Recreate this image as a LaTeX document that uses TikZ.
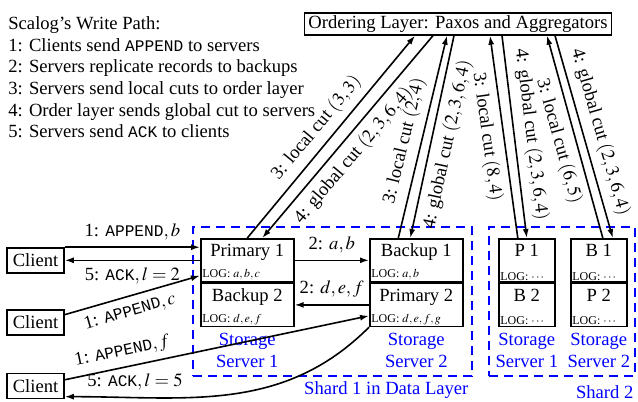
\documentclass[tikz,border=0pt]{standalone}
\usepackage{mathptmx}
\usepackage{fontspec}
\setmainfont{Liberation Serif}
\setmonofont{Liberation Mono}[Scale=0.87]
\usetikzlibrary{positioning, arrows.meta, calc, fit}

\begin{document}
\begin{tikzpicture}[x=0.5pt, y=0.5pt,
        font=\fontsize{9.3}{10.85}\selectfont,
        cell/.style={rectangle, draw=black, thick, minimum width=46.5pt, minimum height=21.5pt, inner sep=2pt, text height=7pt, text depth=10.5pt},
        smallcell/.style={cell, minimum width=28pt},
        log/.style={font=\fontsize{6}{7}\selectfont, inner sep=1pt, anchor=south west},
        client/.style={rectangle, draw=black, thick, minimum width=28.5pt, minimum height=12.5pt, inner sep=1pt},
        shard/.style={draw=blue, thick, dash pattern=on 4.5pt off 3pt, inner sep=0pt},
        server/.style={text=blue, align=center, inner sep=1pt},
        arrow/.style={-{Latex[length=4.5pt, width=3pt]}, thick}
    ]
    \useasboundingbox (0,0) rectangle (638,-402);

    \node[anchor=north west, align=left, inner sep=0pt] (title) at (8,-16) {Scalog's Write Path:\\ 1: Clients send \texttt{APPEND} to servers\\ 2: Servers replicate records to backups\\ 3: Servers send local cuts to order layer\\ 4: Order layer sends global cut to servers\\ 5: Servers send \texttt{ACK} to clients};
    \node[draw=black, thick, inner xsep=2pt, inner ysep=1.2pt] (order) at (458,-24) {Ordering Layer: Paxos and Aggregators};

    \node[shard, fit={(193,-227) (472,-376)}] (shard1) {};
    \node[shard, fit={(489,-227) (635,-376)}] (shard2) {};
    \node[text=blue, anchor=north east, inner sep=2pt] (shard1name) at (shard1.south east) {Shard 1 in Data Layer};
    \node[text=blue, anchor=north east, inner sep=1pt, yshift=-3pt] (shard2name) at (shard2.south east) {Shard 2};

    \node[cell, anchor=north west] (p1) at (200,-238) {Primary 1};
    \node[cell, below=0pt of p1] (b2) {Backup 2};
    \node[cell, anchor=north west] (b1) at (369,-238) {Backup 1};
    \node[cell, below=0pt of b1] (p2) {Primary 2};
    \node[smallcell, anchor=north west] (sp1) at (498,-238) {P 1};
    \node[smallcell, below=0pt of sp1] (sb2) {B 2};
    \node[smallcell, anchor=north west] (sb1) at (570,-238) {B 1};
    \node[smallcell, below=0pt of sb1] (sp2) {P 2};

    \node[log] (p1log) at (p1.south west) {LOG: $a,b,c$};
    \node[log] (b2log) at (b2.south west) {LOG: $d,e,f$};
    \node[log] (b1log) at (b1.south west) {LOG: $a,b$};
    \node[log] (p2log) at (p2.south west) {LOG: $d,e,f,g$};
    \node[log] (sp1log) at (sp1.south west) {LOG: $\cdots$};
    \node[log] (sb2log) at (sb2.south west) {LOG: $\cdots$};
    \node[log] (sb1log) at (sb1.south west) {LOG: $\cdots$};
    \node[log] (sp2log) at (sp2.south west) {LOG: $\cdots$};

    \node[server, below=2pt of b2] (srv1) {Storage\\Server 1};
    \node[server, below=2pt of p2] (srv2) {Storage\\Server 2};
    \node[server, below=2pt of sb2] (srv3) {Storage\\Server 1};
    \node[server, below=2pt of sp2] (srv4) {Storage\\Server 2};

    \node[client] (c1) at (35.5,-260.5) {Client};
    \node[client] (c2) at (35.5,-322.5) {Client};
    \node[client] (c3) at (35.5,-386) {Client};

    \draw[arrow] (c1.north east) -- node[above] {1: \texttt{APPEND}$,b$} (c1.north east -| p1.west);
    \draw[arrow] (p1.west) -- node[below] {5: \texttt{ACK}$,l=2$} (p1.west -| c1.east);
    \draw[arrow] (c2.15) -- node[below, sloped, pos=0.45] {1: \texttt{APPEND}$,c$} (p1.198);
    \draw[arrow] (c3.12) -- node[above, sloped, pos=0.2] {1: \texttt{APPEND}$,f$} (p2.193);
    \draw[arrow] (p2.south west) to[out=225, in=0] node[above, pos=0.8] {5: \texttt{ACK}$,l=5$} (c3.-20);
    \draw[arrow] (p1.east) -- node[above] {2: $a,b$} (b1.west);
    \draw[arrow] (p2.west) -- node[above] {2: $d,e,f$} (b2.east);

    \draw[arrow] (p1.north) -- node[above, sloped, pos=0.49] {3: local cut $(3,3)$} ([xshift=-21.5pt]order.south);
    \draw[arrow] ([xshift=-12.5pt]order.south) -- node[below, sloped, pos=0.54] {4: global cut $(2,3,6,4)$} ([xshift=7.5pt]p1.north);
    \draw[arrow] ([xshift=-9pt]b1.north) -- node[above, sloped, pos=0.46] {3: local cut $(2,4)$} ([xshift=-5.5pt]order.south);
    \draw[arrow] ([xshift=-2pt]order.south) -- node[below, sloped, pos=0.52] {4: global cut $(2,3,6,4)$} ([xshift=-3pt]b1.north);
    \draw[arrow] ([xshift=-4.5pt]sp1.north) -- node[below, sloped, pos=0.51] {3: local cut $(8,4)$} ([xshift=16pt]order.south);
    \draw[arrow] ([xshift=22pt]order.south) -- node[above, sloped, pos=0.5] {4: global cut $(2,3,6,4)$} (sp1.north);
    \draw[arrow] ([xshift=2pt]sb1.north) -- node[below, sloped, pos=0.5] {3: local cut $(6,5)$} ([xshift=44.5pt]order.south);
    \draw[arrow] ([xshift=48.5pt]order.south) -- node[above, sloped, pos=0.5] {4: global cut $(2,3,6,4)$} ([xshift=7pt]sb1.north);
\end{tikzpicture}
\end{document}
